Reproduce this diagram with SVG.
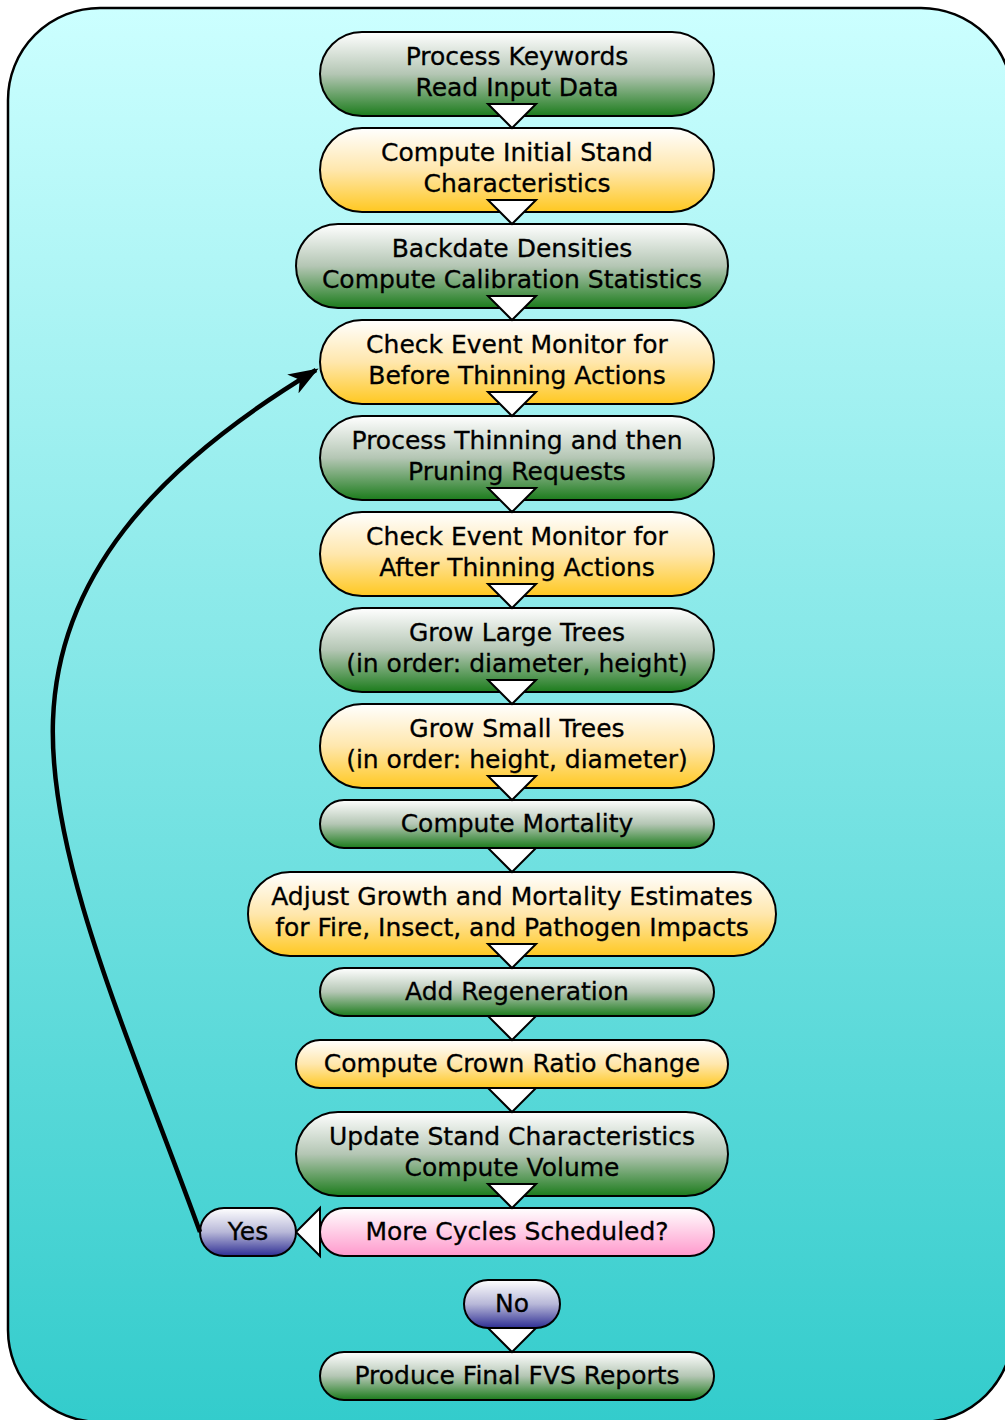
<svg xmlns="http://www.w3.org/2000/svg" width="1005" height="1420" viewBox="0 0 1005 1420">
<style>
.n{stroke:#000;stroke-width:2}
.t{font-family:"DejaVu Sans",Verdana,sans-serif;font-size:25px;fill:#000;stroke:#000;stroke-width:0.3;text-anchor:middle}
.tri{fill:#fff;stroke:#000;stroke-width:2;stroke-linejoin:miter}
</style>
<defs>
<linearGradient id="bg" x1="0" y1="0" x2="0" y2="1"><stop offset="0" stop-color="#ccffff"/><stop offset="1" stop-color="#33cccc"/></linearGradient>
<linearGradient id="gG" x1="0" y1="0" x2="0" y2="1"><stop offset="0" stop-color="#ffffff"/><stop offset="0.5" stop-color="#b4c6b4"/><stop offset="1" stop-color="#1c7c1c"/></linearGradient>
<linearGradient id="gY" x1="0" y1="0" x2="0" y2="1"><stop offset="0" stop-color="#ffffff"/><stop offset="0.5" stop-color="#ffe7ad"/><stop offset="1" stop-color="#ffc820"/></linearGradient>
<linearGradient id="gP" x1="0" y1="0" x2="0" y2="1"><stop offset="0" stop-color="#ffffff"/><stop offset="1" stop-color="#ff99cc"/></linearGradient>
<linearGradient id="gB" x1="0" y1="0" x2="0" y2="1"><stop offset="0" stop-color="#ffffff"/><stop offset="0.5" stop-color="#b8b8d8"/><stop offset="1" stop-color="#2e2e94"/></linearGradient>
<marker id="ah" viewBox="0 0 30 22" refX="27" refY="11" markerWidth="30" markerHeight="22" orient="auto" markerUnits="userSpaceOnUse"><path d="M0,0 L30,11 L0,22 L8,11 z" fill="#000"/></marker>
</defs>
<rect x="8" y="8" width="1005" height="1414" rx="92" ry="92" fill="url(#bg)" stroke="#000" stroke-width="2.5"/>
<g id="nodes">
<g id="n1"><rect class="n" x="320" y="32" width="394" height="84" rx="42" fill="url(#gG)"/><text class="t" x="517" y="65">Process Keywords</text><text class="t" x="517" y="96">Read Input Data</text></g>
<g id="n2"><rect class="n" x="320" y="128" width="394" height="84" rx="42" fill="url(#gY)"/><text class="t" x="517" y="161">Compute Initial Stand</text><text class="t" x="517" y="192">Characteristics</text></g>
<g id="n3"><rect class="n" x="296" y="224" width="432" height="84" rx="42" fill="url(#gG)"/><text class="t" x="512" y="257">Backdate Densities</text><text class="t" x="512" y="288">Compute Calibration Statistics</text></g>
<g id="n4"><rect class="n" x="320" y="320" width="394" height="84" rx="42" fill="url(#gY)"/><text class="t" x="517" y="353">Check Event Monitor for</text><text class="t" x="517" y="384">Before Thinning Actions</text></g>
<g id="n5"><rect class="n" x="320" y="416" width="394" height="84" rx="42" fill="url(#gG)"/><text class="t" x="517" y="449">Process Thinning and then</text><text class="t" x="517" y="480">Pruning Requests</text></g>
<g id="n6"><rect class="n" x="320" y="512" width="394" height="84" rx="42" fill="url(#gY)"/><text class="t" x="517" y="545">Check Event Monitor for</text><text class="t" x="517" y="576">After Thinning Actions</text></g>
<g id="n7"><rect class="n" x="320" y="608" width="394" height="84" rx="42" fill="url(#gG)"/><text class="t" x="517" y="641">Grow Large Trees</text><text class="t" x="517" y="672">(in order: diameter, height)</text></g>
<g id="n8"><rect class="n" x="320" y="704" width="394" height="84" rx="42" fill="url(#gY)"/><text class="t" x="517" y="737">Grow Small Trees</text><text class="t" x="517" y="768">(in order: height, diameter)</text></g>
<g id="n9"><rect class="n" x="320" y="800" width="394" height="48" rx="24" fill="url(#gG)"/><text class="t" x="517" y="832">Compute Mortality</text></g>
<g id="n10"><rect class="n" x="248" y="872" width="528" height="84" rx="42" fill="url(#gY)"/><text class="t" x="512" y="905">Adjust Growth and Mortality Estimates</text><text class="t" x="512" y="936">for Fire, Insect, and Pathogen Impacts</text></g>
<g id="n11"><rect class="n" x="320" y="968" width="394" height="48" rx="24" fill="url(#gG)"/><text class="t" x="517" y="1000">Add Regeneration</text></g>
<g id="n12"><rect class="n" x="296" y="1040" width="432" height="48" rx="24" fill="url(#gY)"/><text class="t" x="512" y="1072">Compute Crown Ratio Change</text></g>
<g id="n13"><rect class="n" x="296" y="1112" width="432" height="84" rx="42" fill="url(#gG)"/><text class="t" x="512" y="1145">Update Stand Characteristics</text><text class="t" x="512" y="1176">Compute Volume</text></g>
<g id="n14"><rect class="n" x="320" y="1208" width="394" height="48" rx="24" fill="url(#gP)"/><text class="t" x="517" y="1240">More Cycles Scheduled?</text></g>
<g id="yes"><rect class="n" x="200" y="1208" width="96" height="48" rx="24" fill="url(#gB)"/><text class="t" x="248" y="1240">Yes</text></g>
<g id="no"><rect class="n" x="464" y="1280" width="96" height="48" rx="24" fill="url(#gB)"/><text class="t" x="512" y="1312">No</text></g>
<g id="n15"><rect class="n" x="320" y="1352" width="394" height="48" rx="24" fill="url(#gG)"/><text class="t" x="517" y="1384">Produce Final FVS Reports</text></g>
</g>
<g id="connectors">
<polygon class="tri" points="488,104 536,104 512,128"/>
<polygon class="tri" points="488,200 536,200 512,224"/>
<polygon class="tri" points="488,296 536,296 512,320"/>
<polygon class="tri" points="488,392 536,392 512,416"/>
<polygon class="tri" points="488,488 536,488 512,512"/>
<polygon class="tri" points="488,584 536,584 512,608"/>
<polygon class="tri" points="488,680 536,680 512,704"/>
<polygon class="tri" points="488,776 536,776 512,800"/>
<polygon class="tri" points="488,848 536,848 512,872"/>
<polygon class="tri" points="488,944 536,944 512,968"/>
<polygon class="tri" points="488,1016 536,1016 512,1040"/>
<polygon class="tri" points="488,1088 536,1088 512,1112"/>
<polygon class="tri" points="488,1184 536,1184 512,1208"/>
<polygon class="tri" points="320,1208 320,1256 296,1232"/>
<polygon class="tri" points="488,1328 536,1328 512,1352"/>
<path d="M200,1232 C130,1040 48,860 53,720 C58,580 150,470 316,370" fill="none" stroke="#000" stroke-width="4.5" marker-end="url(#ah)"/>
</g>
</svg>
